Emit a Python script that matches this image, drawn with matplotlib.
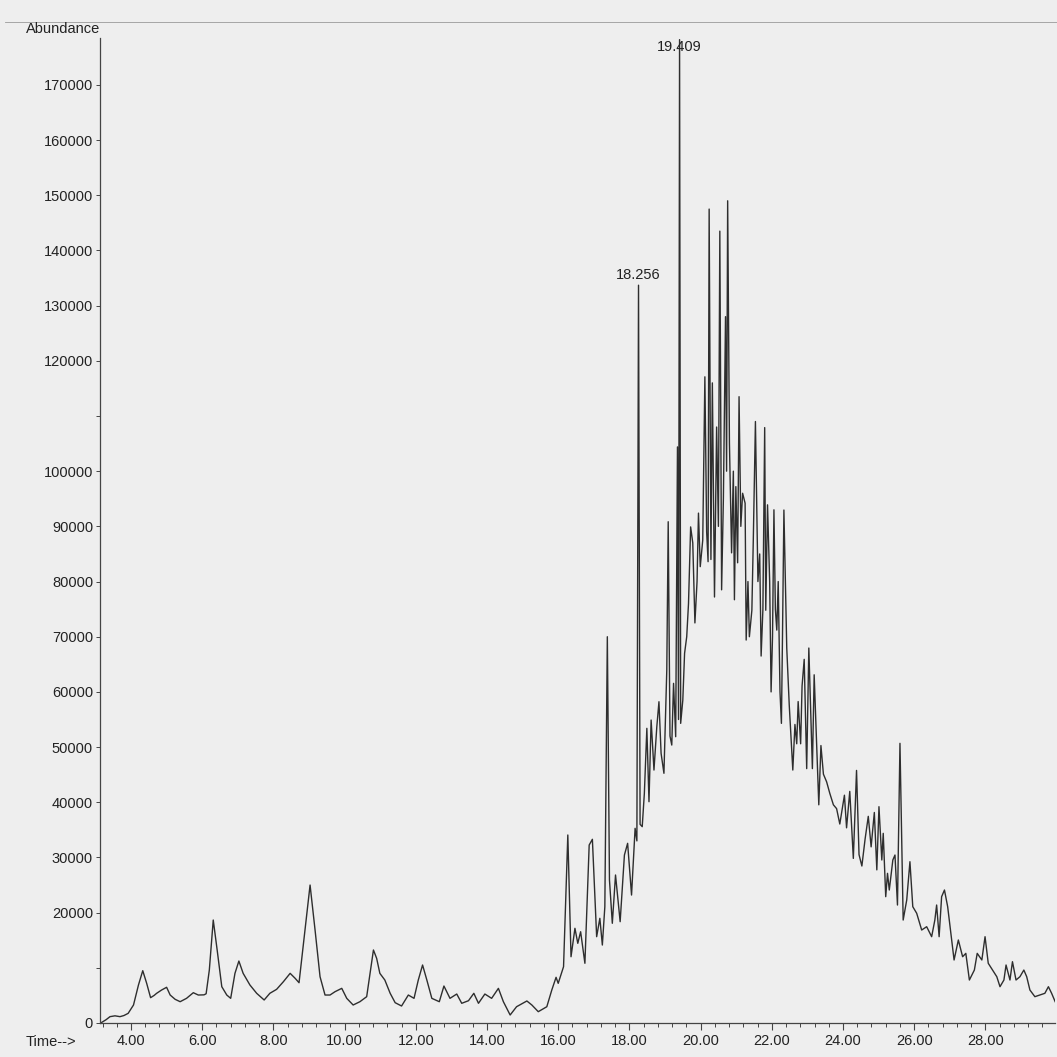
import matplotlib
matplotlib.use("Agg")
import matplotlib.pyplot as plt
from matplotlib.ticker import MultipleLocator, FixedLocator, FuncFormatter
from matplotlib.lines import Line2D

plt.rcParams['font.family'] = ['Liberation Sans', 'DejaVu Sans']

# ---- data (time in min, abundance) ----
time_a = [3.15, 3.30, 3.41, 3.55, 3.69, 3.80, 3.92, 4.07, 4.21, 4.33, 4.44, 4.55, 4.65, 4.72,
          4.86, 5.00, 5.10, 5.24, 5.38, 5.56, 5.75, 5.89, 6.05, 6.11, 6.20, 6.31, 6.42, 6.55,
          6.69, 6.80, 6.92, 7.03, 7.15, 7.34, 7.53, 7.74, 7.90, 8.09, 8.28, 8.47, 8.61, 8.72,
          8.84, 9.03, 9.17, 9.31, 9.45, 9.59]
abund_a = [0, 600, 1150, 1300, 1150, 1350, 1750, 3260, 6900, 9480, 7190, 4590, 5000, 5380,
           5980, 6470, 5070, 4290, 3860, 4470, 5490, 5070, 5100, 5300, 9600, 18660, 13230, 6580,
           5070, 4470, 9000, 11230, 9000, 6890, 5380, 4170, 5380, 6100, 7480, 9000, 8100, 7300,
           14130, 25000, 16850, 8390, 5070, 5070]

time_b = [9.73, 9.92, 10.06, 10.24, 10.43, 10.62, 10.73, 10.81, 10.90, 10.99, 11.13, 11.28,
          11.42, 11.60, 11.79, 11.95, 12.07, 12.19, 12.31, 12.45, 12.66, 12.79, 12.96, 13.15,
          13.29, 13.48, 13.63, 13.76, 13.94, 14.13, 14.32, 14.46, 14.65, 14.83, 15.12, 15.26,
          15.44, 15.68, 15.82, 15.94, 16.00]
abund_b = [5670, 6280, 4470, 3260, 3860, 4770, 9600, 13230, 11720, 9000, 7790, 5380,
           3680, 3080, 5070, 4470, 7790, 10510, 7790, 4470, 3860, 6700, 4470, 5250,
           3570, 4040, 5380, 3570, 5250, 4470, 6280, 3860, 1450, 2950, 3990, 3260,
           2050, 2950, 5980, 8280, 7190]

time_c = [16.15, 16.27, 16.36, 16.47, 16.55, 16.63, 16.75, 16.87, 16.96, 17.08, 17.17, 17.24,
          17.31, 17.38, 17.44, 17.52, 17.61, 17.74, 17.86, 17.95, 18.06, 18.16, 18.21, 18.256,
          18.30, 18.36, 18.42, 18.49, 18.55, 18.61, 18.69, 18.77, 18.83, 18.89, 18.97, 19.05,
          19.09, 19.14, 19.19, 19.24, 19.30, 19.35, 19.38, 19.409]
abund_c = [10200, 34070, 12010, 17160, 14440, 16540, 10820, 32250, 33290, 15640, 18970, 14130,
           21070, 70000, 25910, 18070, 26820, 18360, 30440, 32560, 23190, 35280, 33000, 133700,
           36000, 35580, 41620, 53400, 40100, 54900, 45840, 53700, 58220, 48870, 45250, 63960,
           90840, 52000, 50370, 61550, 51880, 104400, 55000, 178200]

time_d = [19.44, 19.50, 19.55, 19.61, 19.66, 19.72, 19.78, 19.84, 19.90, 19.94, 19.99, 20.06,
          20.12, 20.17, 20.21, 20.24, 20.29, 20.33, 20.39, 20.45, 20.50, 20.54, 20.59, 20.64,
          20.70, 20.73, 20.76, 20.81, 20.87, 20.92, 20.95, 20.99, 21.04, 21.08, 21.13, 21.18,
          21.25, 21.28, 21.33, 21.37, 21.44, 21.48, 21.54, 21.58, 21.61, 21.66, 21.70, 21.75,
          21.80, 21.83, 21.88, 21.94, 21.98, 22.02, 22.06, 22.10, 22.14, 22.18, 22.23, 22.27,
          22.30, 22.34]
abund_d = [54300, 58500, 67000, 70000, 76000, 89900, 87000, 72500, 80000, 92400, 82700, 87500,
           117100, 89000, 83600, 147500, 84000, 116000, 77200, 108000, 90000, 143500, 78500, 95000,
           128000, 100000, 149000, 105100, 85200, 100000, 76700, 97200, 83400, 113500, 90000, 96000,
           94200, 69400, 80000, 70000, 74800, 87500, 109000, 92000, 80000, 85000, 66500, 75000,
           107900, 74800, 93900, 80000, 60000, 70000, 93000, 75000, 71200, 80000, 60000, 54300,
           70000, 92960]

time_e = [22.42, 22.49, 22.59, 22.65, 22.70, 22.74, 22.81, 22.85, 22.91, 22.98, 23.04, 23.14,
          23.19, 23.26, 23.32, 23.38, 23.45, 23.54, 23.63, 23.73, 23.82, 23.91, 24.04, 24.10,
          24.19, 24.29, 24.38, 24.45, 24.53, 24.62, 24.71, 24.79, 24.88, 24.95, 25.01]
abund_e = [67950, 57600, 45840, 54100, 50600, 58250, 50600, 61070, 65900, 46100, 67950, 46100,
           63100, 50600, 39540, 50280, 45090, 43700, 41600, 39540, 38850, 36060, 41280, 35370,
           41970, 29830, 45770, 30520, 28450, 33310, 37450, 31920, 38150, 27750, 39200]

time_f = [25.09, 25.13, 25.20, 25.25, 25.30, 25.40, 25.46, 25.53, 25.60, 25.69, 25.79, 25.88,
          25.96, 26.07, 26.21, 26.35, 26.49, 26.58, 26.63, 26.70, 26.77, 26.85, 26.94, 27.03,
          27.12, 27.24, 27.36, 27.45, 27.55, 27.69, 27.77, 27.90, 27.99, 28.08, 28.20, 28.32,
          28.41, 28.52, 28.58, 28.69, 28.76, 28.86, 28.97, 29.08, 29.16, 29.25, 29.39, 29.53,
          29.67, 29.77, 29.86, 29.96]
abund_f = [29540, 34370, 22890, 27120, 24100, 29540, 30440, 21380, 50680, 18660, 22290, 29230,
           21080, 19880, 16850, 17450, 15640, 18660, 21380, 15640, 22890, 24100, 21080, 16250,
           11420, 15040, 12010, 12620, 7790, 9600, 12620, 11420, 15640, 10820, 9600, 8390,
           6580, 7790, 10510, 7790, 11110, 7790, 8390, 9600, 8390, 5980, 4770, 5070,
           5380, 6580, 5380, 3860]

peak_labels = [(18.256, 133700, "18.256"), (19.409, 178200, "19.409")]

x_major = [4, 6, 8, 10, 12, 14, 16, 18, 20, 22, 24, 26, 28]
y_ticks = list(range(0, 180000, 10000))
y_hidden = [10000, 110000]

times = time_a + time_b + time_c + time_d + time_e + time_f
abunds = abund_a + abund_b + abund_c + abund_d + abund_e + abund_f

# ---- figure ----
bg = '#eeeeee'
fs = 10.5
fig = plt.figure(figsize=(10.57, 10.57), dpi=100, facecolor=bg)
ax = fig.add_axes([100/1057, 34/1057, 955/1057, 985/1057])
ax.set_facecolor(bg)

ax.plot(times, abunds, color='#2e2e2e', lw=1.0)

ax.set_xlim(3.129, 29.955)
ax.set_ylim(0, 178500)

for s in ['top', 'right']:
    ax.spines[s].set_visible(False)
for s in ['left', 'bottom']:
    ax.spines[s].set_color('#444444')
    ax.spines[s].set_linewidth(0.9)

ax.xaxis.set_major_locator(FixedLocator(x_major))
ax.xaxis.set_minor_locator(MultipleLocator(0.4))
ax.xaxis.set_major_formatter(FuncFormatter(lambda v, p: f"{v:.2f}"))
ax.yaxis.set_major_locator(FixedLocator(y_ticks))
ax.yaxis.set_major_formatter(FuncFormatter(
    lambda v, p: "" if int(round(v)) in y_hidden else f"{int(round(v))}"))

ax.tick_params(axis='x', which='major', length=5, width=0.8, colors='#444444',
               labelsize=fs, labelcolor='#222222', pad=3)
ax.tick_params(axis='x', which='minor', length=3, width=0.7, colors='#444444')
ax.tick_params(axis='y', which='major', length=3, width=0.7, colors='#444444',
               labelsize=fs, labelcolor='#222222', pad=2)

for t, a, lab in peak_labels:
    ax.annotate(lab, xy=(t, a), xytext=(0, 2 if a < 170000 else -10),
                textcoords='offset points', ha='center', va='bottom',
                fontsize=fs, color='#222222')

fig.text(26/1057, 1 - 29/1057, "Abundance", fontsize=fs, color='#222222',
         ha='left', va='center')
fig.text(26/1057, 1 - 1042/1057, "Time-->", fontsize=fs, color='#222222',
         ha='left', va='center')

fig.add_artist(Line2D([5/1057, 1.0], [1 - 22/1057, 1 - 22/1057],
                      color='#9a9a9a', lw=0.6, transform=fig.transFigure))

fig.savefig("out.png", dpi=100, facecolor=bg)
